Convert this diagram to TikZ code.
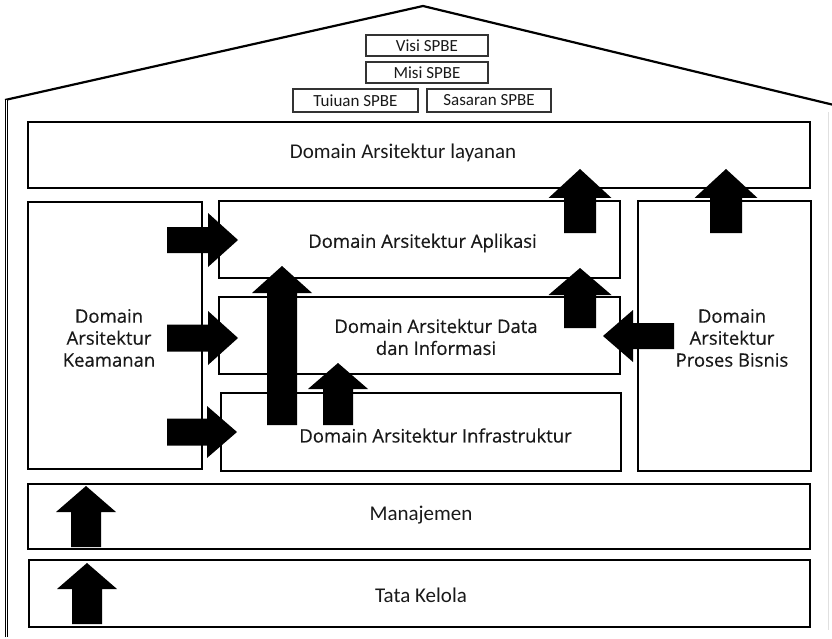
\documentclass[tikz,border=0pt]{standalone}
\usepackage{fontspec}
\setmainfont{Carlito}
\newfontfamily\osans[FakeBold=0.4]{Open Sans}
\usetikzlibrary{calc}
\tikzset{
  box/.style={draw=black, line width=1.7pt, rectangle, inner sep=0pt, outer sep=0pt},
  smallbox/.style={draw=black!80, line width=1.2pt, rectangle, inner sep=0pt, outer sep=0pt,
    minimum height=21pt, font=\fontsize{17pt}{19pt}\selectfont, text=black!90},
  cal/.style={font=\fontsize{21pt}{24pt}\selectfont, text=black!90},
  osl/.style={font=\osans\fontsize{18.5pt}{22pt}\selectfont, text=black!90, align=center},
  roof/.style={line width=2.2pt, line join=miter},
}
\newcommand{\blockarrow}[5]{%
  \coordinate (ba-base) at ($(#2)!#5pt!(#1)$);
  \fill[black] ($(#1)!#3pt!90:(#2)$) -- ($(ba-base)!#3pt!90:(#2)$) -- ($(ba-base)!#4pt!90:(#2)$) -- (#2)
    -- ($(ba-base)!#4pt!-90:(#2)$) -- ($(ba-base)!#3pt!-90:(#2)$) -- ($(#1)!#3pt!-90:(#2)$) -- cycle;}
\begin{document}
\begin{tikzpicture}[x=1pt, y=-1pt]
\useasboundingbox (0,0) rectangle (832,639);
% house outline
\coordinate (eaveL) at (5,100);
\coordinate (apex) at (423,6);
\coordinate (eaveR) at (834,105);
\coordinate (wallT) at (6.5,100);
\coordinate (wallB) at (6.5,637);
\draw[roof] (eaveL) -- (apex) -- (eaveR);
\draw[line width=1.2pt, double, double distance=1.2pt] (wallT) -- (wallB);
\draw[black!12, line width=0.8pt] (828,112) -- (828,630);

% top boxes
\node[smallbox, minimum width=122pt] (visi) at (427,45.5) {Visi SPBE};
\node[smallbox, minimum width=122pt] (misi) at (427,72.5) {Misi SPBE};
\node[smallbox, minimum width=125pt, minimum height=23pt] (tujuan) at (355.5,100.5) {Tuiuan SPBE};
\node[smallbox, minimum width=124pt, minimum height=23pt] (sasaran) at (489,100.5) {Sasaran SPBE};

% main boxes
\node[box, minimum width=782pt, minimum height=66pt] (layanan) at (419,155) {};
\node[cal] (layananT) at (403,153) {Domain Arsitektur layanan};
\node[box, minimum width=174pt, minimum height=267pt] (keamanan) at (115,335.5) {};
\node[osl] (keamananT) at (109,338) {Domain\\Arsitektur\\Keamanan};
\node[box, minimum width=401pt, minimum height=77pt] (aplikasi) at (419.5,239.5) {};
\node[osl] (aplikasiT) at (422.5,243) {Domain Arsitektur Aplikasi};
\node[box, minimum width=401pt, minimum height=77pt] (data) at (419.5,335.5) {};
\node[osl] (dataT) at (436,337) {Domain Arsitektur Data\\dan Informasi};
\node[box, minimum width=400pt, minimum height=78pt] (infra) at (421,432) {};
\node[osl] (infraT) at (435.5,435.5) {Domain Arsitektur Infrastruktur};
\node[box, minimum width=173pt, minimum height=270pt] (proses) at (724.5,336) {};
\node[osl] (prosesT) at (732,338) {Domain\\Arsitektur\\Proses Bisnis};
\node[box, minimum width=782pt, minimum height=65pt] (manajemen) at (419,516.5) {};
\node[cal] (manajemenT) at (421,515) {Manajemen};
\node[box, minimum width=781pt, minimum height=67pt] (tata) at (419.5,593.5) {};
\node[cal] (tataT) at (421,595) {Tata Kelola};

% arrow end points
\coordinate (a1s) at (167,240);  \coordinate (a1t) at (238,240);
\coordinate (a2s) at (167,338);  \coordinate (a2t) at (238,338);
\coordinate (a3s) at (167,432);  \coordinate (a3t) at (237,432);
\coordinate (a4s) at (282,425);  \coordinate (a4t) at (282,266);
\coordinate (a5s) at (338,425);  \coordinate (a5t) at (338,363);
\coordinate (a6s) at (580,328);  \coordinate (a6t) at (580,268);
\coordinate (a7s) at (580,233);  \coordinate (a7t) at (580,169);
\coordinate (a8s) at (726,233);  \coordinate (a8t) at (726,169);
\coordinate (a9s) at (674,336);  \coordinate (a9t) at (603,336);
\coordinate (a10s) at (86,547);  \coordinate (a10t) at (86,486);
\coordinate (a11s) at (87,624);  \coordinate (a11t) at (87,563);

\blockarrow{a1s}{a1t}{13}{27}{30}
\blockarrow{a2s}{a2t}{13.5}{27}{30}
\blockarrow{a3s}{a3t}{13.5}{26}{30}
\blockarrow{a4s}{a4t}{15}{30}{27}
\blockarrow{a5s}{a5t}{15}{30}{26}
\blockarrow{a6s}{a6t}{16}{31.5}{27}
\blockarrow{a7s}{a7t}{16}{31.5}{29}
\blockarrow{a8s}{a8t}{16}{31.5}{29}
\blockarrow{a9s}{a9t}{13}{26}{30}
\blockarrow{a10s}{a10t}{15}{30}{26}
\blockarrow{a11s}{a11t}{15}{30}{26}
\end{tikzpicture}
\end{document}
